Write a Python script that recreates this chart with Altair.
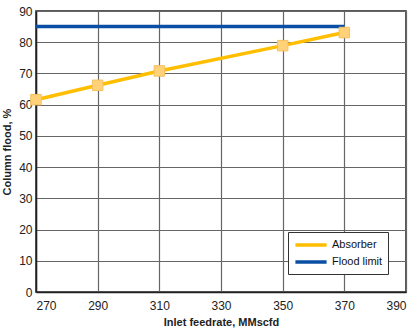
import altair as alt
import pandas as pd

feed = [270, 290, 310, 350, 370]
absorber = [61.6, 66.2, 70.8, 78.9, 83.1]
flood_x = [270, 370]
flood_y = [85, 85]

FONT = "'Liberation Sans Narrow', 'Arial Narrow', 'Liberation Sans', sans-serif"

df_abs = pd.DataFrame({"x": feed, "y": absorber, "series": "Absorber"})
df_fl = pd.DataFrame({"x": flood_x, "y": flood_y, "series": "Flood limit"})
df = pd.concat([df_abs, df_fl])

xscale = alt.Scale(domain=[270, 390], nice=False, zero=False)
yscale = alt.Scale(domain=[0, 90], nice=False)
color = alt.Color(
    "series:N",
    scale=alt.Scale(domain=["Absorber", "Flood limit"], range=["#FFBE00", "#0A4FA3"]),
    legend=alt.Legend(
        title=None, orient="bottom-right", symbolType="M-2.6,0H2.6", symbolStrokeWidth=3.5,
        symbolSize=144, strokeColor="#333", fillColor="white", padding=5,
        symbolOffset=10, offset=18, labelFont=FONT, labelFontSize=11,
        labelColor="#111", rowPadding=2, labelOffset=13,
    ),
)

xax = alt.X("x:Q", scale=xscale, title="Inlet feedrate, MMscfd",
            axis=alt.Axis(values=list(range(270, 391, 20)), tickSize=0, labelPadding=8,
                          titlePadding=5, labelOverlap=False))
yax = alt.Y("y:Q", scale=yscale, title="Column flood, %",
            axis=alt.Axis(values=list(range(0, 91, 10)), tickSize=0, labelPadding=4,
                          titlePadding=6, labelOverlap=False))

lines = alt.Chart(df).mark_line(strokeWidth=3.5).encode(x=xax, y=yax, color=color)
pts = alt.Chart(df_abs).mark_square(size=110, filled=True, color="#FFD27A",
                                    stroke="#F5C060", strokeWidth=1, opacity=1).encode(
    x=xax, y=yax)

chart = alt.layer(lines, pts).properties(
    width=370, height=281,
    padding={"left": 36, "top": 11, "right": 13, "bottom": 37},
    autosize=alt.AutoSizeParams(type="none"),
    background="white",
).configure_view(stroke="#222", strokeWidth=1.5).configure_axis(
    grid=True, gridColor="#666", gridWidth=1.2, gridOpacity=1,
    domainColor="#222", domainWidth=1.5,
    labelFont=FONT, labelFontSize=12, labelColor="#222",
    titleFont=FONT, titleFontSize=11, titleFontWeight="bold", titleColor="#222",
)

chart.save("out.html", embed_options={"renderer": "svg", "actions": False})
